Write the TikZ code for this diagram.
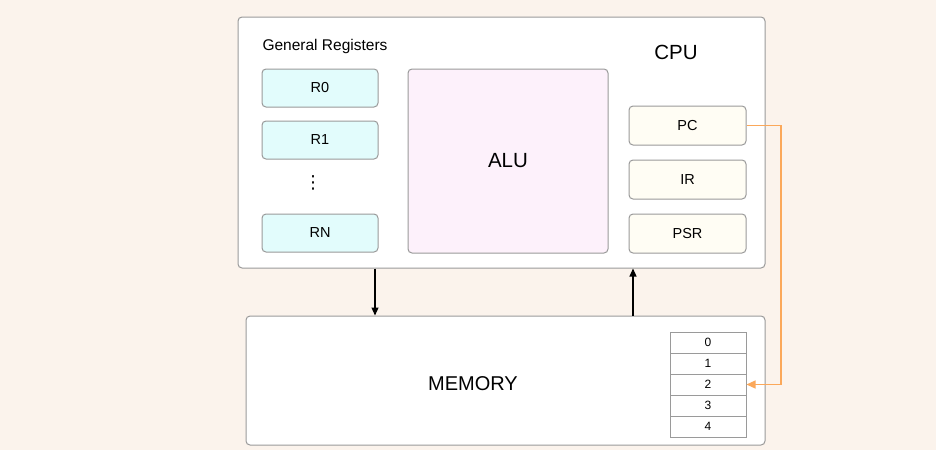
\documentclass[tikz,border=0pt]{standalone}
\usepackage{fontspec}
\setmainfont{Liberation Sans}
\newfontfamily\dejavu{DejaVu Sans}
\usetikzlibrary{arrows.meta}
\definecolor{bgc}{HTML}{FBF3EC}
\definecolor{edge}{HTML}{9A9A9A}
\definecolor{regc}{HTML}{E2FCFC}
\definecolor{aluc}{HTML}{FDF1FB}
\definecolor{spc}{HTML}{FFFDF4}
\definecolor{orng}{HTML}{FBA85A}
\tikzset{
  px/.style={x=1pt,y=-1pt},
  box/.style={draw=edge,line width=1pt,rounded corners=4pt,inner sep=0pt},
  reg/.style={box,fill=regc,minimum width=116pt,minimum height=38pt,font=\fontsize{14.5}{16}\selectfont},
  spr/.style={box,fill=spc,minimum width=117pt,minimum height=39pt,font=\fontsize{14.5}{16}\selectfont},
  cell/.style={draw=edge,line width=1pt,fill=white,minimum width=76pt,minimum height=21pt,inner sep=0pt,font=\fontsize{12}{14}\selectfont},
  conn/.style={-{Triangle[length=8pt,width=7pt]},line width=1.1pt,black},
}
\begin{document}
\begin{tikzpicture}[px]
\fill[bgc] (0,0) rectangle (936,450);
\useasboundingbox (0,0) rectangle (936,450);
% CPU
\node[box,fill=white,minimum width=527pt,minimum height=251pt] (cpu) at (501.5,142.5) {};
\node[anchor=west,font=\fontsize{15.5}{17}\selectfont] (gr) at (259,46) {General Registers};
\node[font=\fontsize{20.5}{23}\selectfont] (cpul) at (676,52) {CPU};
\node[reg] (r0) at (320,88) {R0};
\node[reg] (r1) at (320,140) {R1};
\node[font=\dejavu\fontsize{18}{20}\selectfont] (dots) at (313,183) {⋮};
\node[reg] (rn) at (320,233) {RN};
\node[box,fill=aluc,minimum width=200pt,minimum height=184pt,font=\fontsize{20.5}{23}\selectfont] (alu) at (508,161) {ALU};
\node[spr] (pc) at (687.5,125.5) {PC};
\node[spr] (ir) at (687.5,179.5) {IR};
\node[spr] (psr) at (687.5,233.5) {PSR};
% Memory
\node[box,fill=white,minimum width=519pt,minimum height=129pt] (mem) at (505.5,380.5) {};
\node[font=\fontsize{20}{23}\selectfont] (meml) at (473,384) {MEMORY};
\node[cell] (m0) at (708,342.5) {0};
\node[cell] (m1) at (708,363.5) {1};
\node[cell] (m2) at (708,384.5) {2};
\node[cell] (m3) at (708,405.5) {3};
\node[cell] (m4) at (708,426.5) {4};
% arrows
\draw[conn] (cpu.south -| 375,0) -- (mem.north -| 375,0);
\draw[conn] (mem.north -| 633,0) -- (cpu.south -| 633,0);
\coordinate (t1) at (781,127);
\draw[orng,line width=1.2pt,-{Triangle[length=9pt,width=8pt]}] (pc.east) -- (pc.east -| t1) -- (m2.east -| t1) -- (m2.east);
\end{tikzpicture}
\end{document}
